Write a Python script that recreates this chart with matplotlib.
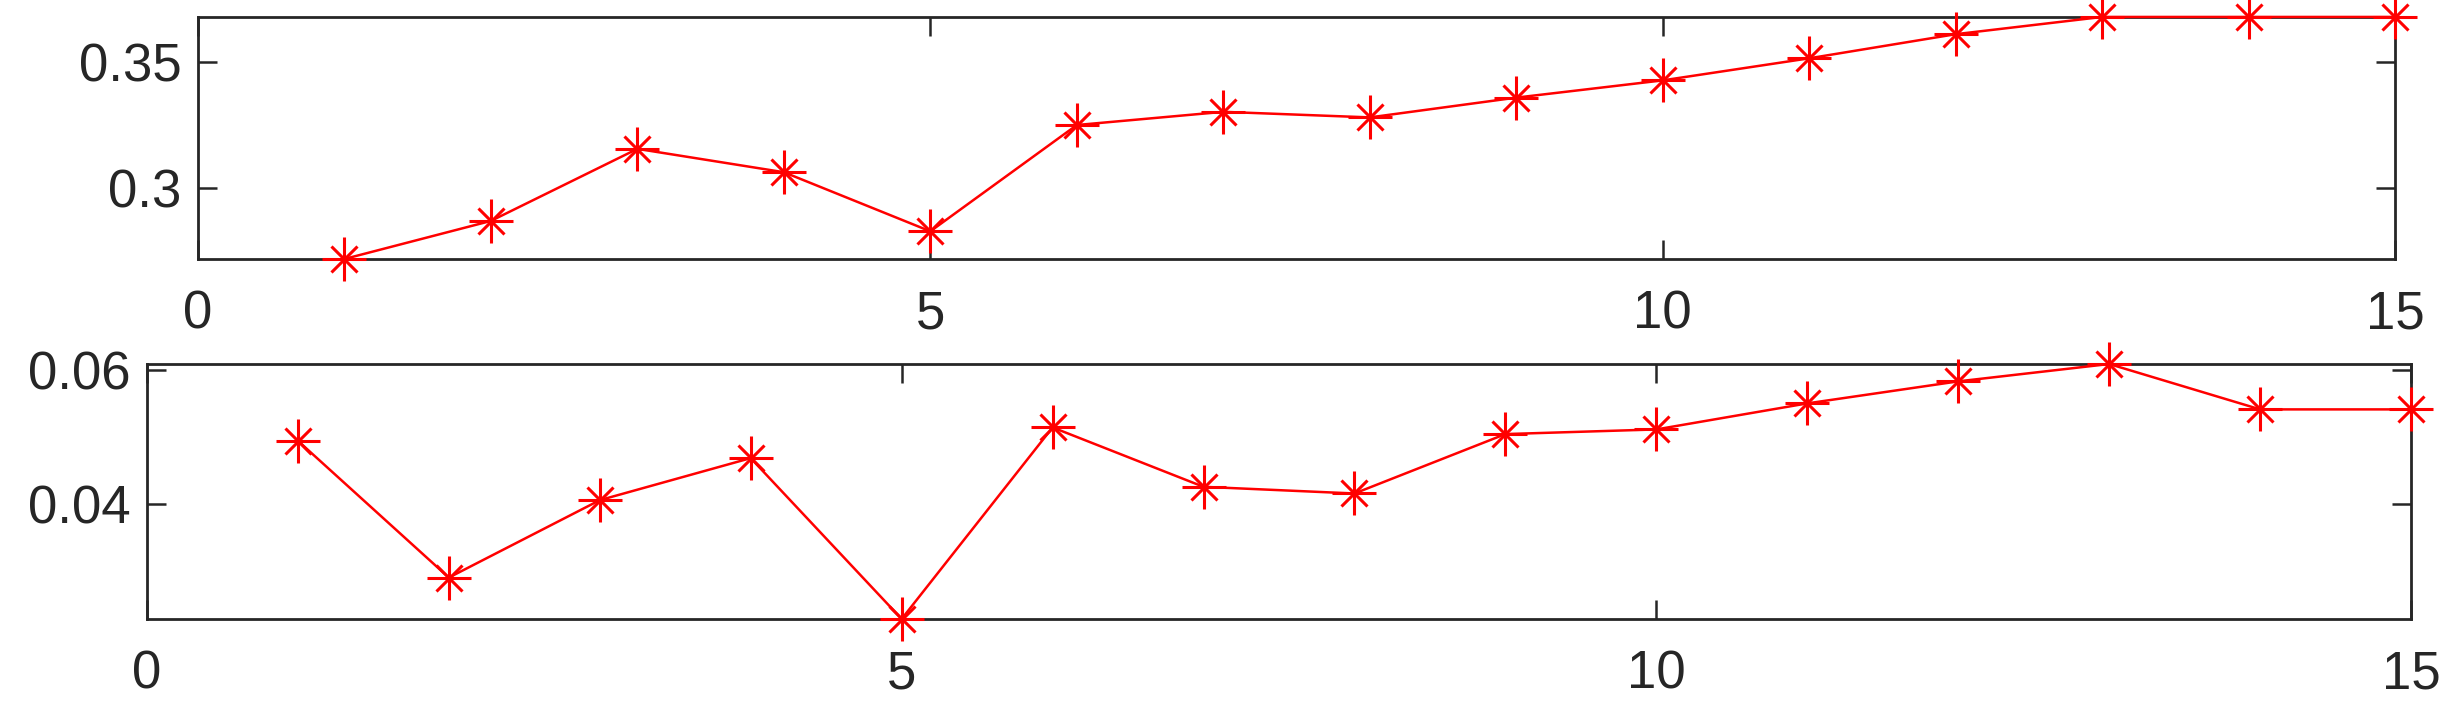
#! /usr/bin/env python3

import matplotlib
matplotlib.use('Agg')
import matplotlib.pyplot as plt

''' plot.py
Two stacked line plots with asterisk markers (MATLAB look).
'''

x = list(range(1, 16))

top_vals = [0.2722, 0.2872, 0.3156, 0.3064, 0.2831, 0.3250, 0.3302, 0.3280,
            0.3358, 0.3426, 0.3513, 0.3608, 0.3676, 0.3676, 0.3676]
bottom_vals = [0.0494, 0.0289, 0.0405, 0.0468, 0.0227, 0.0514, 0.0425, 0.0415,
               0.0504, 0.0511, 0.0550, 0.0583, 0.0609, 0.0541, 0.0541]

xticks = [0, 5, 10, 15]
top_yticks = [0.3, 0.35]
bottom_yticks = [0.04, 0.06]

dark = '#262626'

plt.rcParams['font.family'] = ['Liberation Sans', 'DejaVu Sans']
plt.rcParams['font.size'] = 38

fig = plt.figure(figsize=(24.53, 7.15), dpi=100)

ax_top = fig.add_axes([0.0807, 0.6378, 0.8957, 0.3385])
ax_bot = fig.add_axes([0.0599, 0.1343, 0.9230, 0.3566])


def draw(ax, vals, yticks, ylabels):
    # MATLAB style '*' = plus + small cross
    ax.plot(x, vals, color='#ff0000', lw=1.8, marker='+', ms=31, mew=2.2,
            clip_on=False, zorder=3)
    ax.plot(x, vals, ls='none', color='#ff0000', marker='x', ms=19, mew=2.2,
            clip_on=False, zorder=3)
    ax.set_xlim(0, 15)
    ax.set_ylim(min(vals), max(vals))
    ax.set_xticks(xticks)
    ax.set_xticklabels([str(t) for t in xticks])
    ax.set_yticks(yticks)
    ax.set_yticklabels(ylabels)
    ax.tick_params(direction='in', length=14, width=1.8, colors=dark,
                   top=True, right=True, labelsize=38)
    ax.tick_params(axis='x', pad=22)
    ax.tick_params(axis='y', pad=12)
    for sp in ax.spines.values():
        sp.set_linewidth(2.0)
        sp.set_color(dark)


draw(ax_top, top_vals, top_yticks, ['0.3', '0.35'])
draw(ax_bot, bottom_vals, bottom_yticks, ['0.04', '0.06'])

fig.savefig('out.png', dpi=100)
